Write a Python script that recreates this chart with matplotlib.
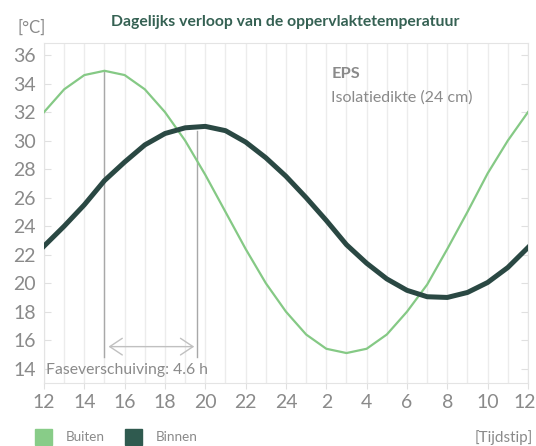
import numpy as np
import matplotlib.pyplot as plt
from matplotlib.patches import Rectangle
from matplotlib.transforms import ScaledTranslation

# Uren van 12 tot 12 (volgende dag)
hours = [12, 13, 14, 15, 16, 17, 18, 19, 20, 21, 22, 23, 24,
         1, 2, 3, 4, 5, 6, 7, 8, 9, 10, 11, 12]
tick_labels = [str(h) for h in hours[::2]]

# Temperaturen [°C]
buiten = [32.0, 33.6, 34.6, 34.9, 34.6, 33.6, 32.0, 30.0, 27.6, 25.0, 22.4, 20.0, 18.0,
          16.4, 15.4, 15.1, 15.4, 16.4, 18.0, 19.9, 22.4, 25.0, 27.7, 30.0, 32.0]
binnen = [22.6, 24.0, 25.5, 27.2, 28.5, 29.7, 30.5, 30.9, 31.0, 30.7, 29.9, 28.8, 27.5,
          26.0, 24.4, 22.7, 21.4, 20.3, 19.5, 19.05, 19.0, 19.35, 20.05, 21.1, 22.5]

piek_buiten = 3      # index van piek buiten (15 uur)
fase = 4.6           # faseverschuiving [h]

GROEN = '#85c985'
DONKER = '#2a4843'
GRIJS = '#8a8a8a'
TITEL = '#356153'

plt.rcParams['font.family'] = ['Lato', 'DejaVu Sans']

fig = plt.figure(figsize=(5.36, 4.46), dpi=100)
ax = fig.add_axes([0.0821, 0.1413, 0.9029, 0.7623])

x = np.arange(len(hours))
ax.plot(x, buiten, color=GROEN, lw=1.6, zorder=3)
ax.plot(x, binnen, color=DONKER, lw=3.6, zorder=3)

# Faseverschuiving-annotatie
ax.plot([piek_buiten, piek_buiten], [14.8, max(buiten)], color='#a8a8a8', lw=1, zorder=2)
ax.plot([piek_buiten + fase] * 2, [14.8, 30.7], color='#a8a8a8', lw=1, zorder=2)
ax.annotate('', xy=(piek_buiten + 0.2, 15.55), xytext=(piek_buiten + fase - 0.15, 15.55),
            arrowprops=dict(arrowstyle='<->, head_length=0.45, head_width=0.3',
                            color='#c0c0c0', lw=1, mutation_scale=20,
                            shrinkA=0, shrinkB=0))
ax.text(0.1, 13.9, 'Faseverschuiving: 4.6 h', color=GRIJS, fontsize=11.3,
        va='center', ha='left')

ax.text(14.25, 34.65, 'EPS', color=GRIJS, fontsize=11.8, fontweight='bold', va='center')
ax.text(14.25, 33.05, 'Isolatiedikte (24 cm)', color=GRIJS, fontsize=11.5, va='center')

ax.set_xlim(0, 24)
ax.set_ylim(13.0, 36.85)
ax.set_xticks(x[::2])
ax.set_xticklabels(tick_labels)
ax.set_xticks(x, minor=True)
ax.set_yticks(np.arange(14, 37, 2))
ax.grid(axis='x', which='both', color='#ececec', lw=1)
ax.set_axisbelow(True)

for s in ax.spines.values():
    s.set_color('#e4e4e4')
ax.tick_params(axis='y', direction='in', length=5, color='#e0e0e0', labelsize=14,
               labelcolor=GRIJS, right=True, pad=6)
ax.tick_params(axis='x', which='major', length=4, color='#e0e0e0', labelsize=14,
               labelcolor=GRIJS, pad=4)
ax.tick_params(axis='x', which='minor', length=0)

# laatste label iets naar links zodat het binnen de figuur valt
last = ax.get_xticklabels()[-1]
last.set_transform(last.get_transform() + ScaledTranslation(-3 / 100, 0, fig.dpi_scale_trans))

fig.text(0.533, 0.951, 'Dagelijks verloop van de oppervlaktetemperatuur', color=TITEL,
         fontsize=11.3, fontweight='bold', ha='center', va='center')
fig.text(0.032, 0.937, '[°C]', color=GRIJS, fontsize=12, ha='left', va='center')
fig.text(0.994, 0.02, '[Tijdstip]', color=GRIJS, fontsize=11, ha='right', va='center')

# Legenda
fig.patches.append(Rectangle((35 / 536, 1 - 445 / 446), 17 / 536, 16 / 446,
                             transform=fig.transFigure, color='#88cc88'))
fig.text(66 / 536, 1 - 437 / 446, 'Buiten', color=GRIJS, fontsize=9.7, va='center')
fig.patches.append(Rectangle((125 / 536, 1 - 445 / 446), 17 / 536, 16 / 446,
                             transform=fig.transFigure, color='#2f5a4f'))
fig.text(156 / 536, 1 - 437 / 446, 'Binnen', color=GRIJS, fontsize=9.7, va='center')

fig.savefig('out.png', dpi=100)
